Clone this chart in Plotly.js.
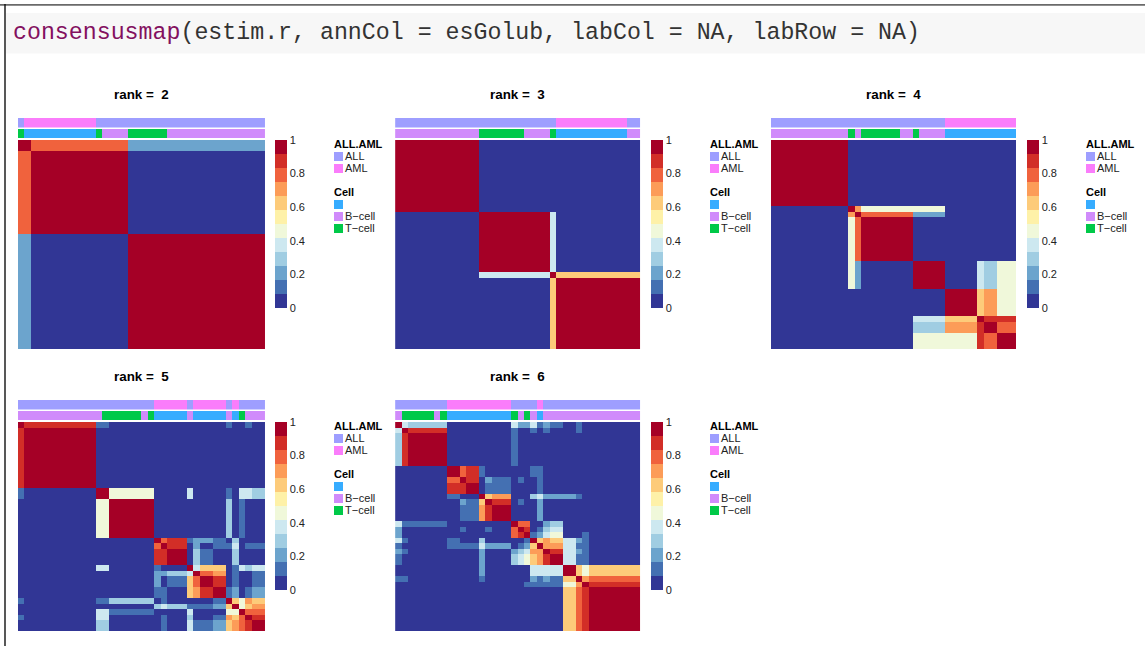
<!DOCTYPE html>
<html><head><meta charset="utf-8">
<script src="https://cdn.plot.ly/plotly-3.0.1.min.js"></script>
<style>html,body{margin:0;padding:0;background:#fff;overflow:hidden}#chart{width:1145px;height:646px}</style>
</head><body><div id="chart"></div>
<script>
// ---- colour bands of the consensus scale (bottom to top) ----
const bandColors = ['#313695','#4470b2','#6ca4cd','#a0cde2','#cde8f0','#f0f8da','#fef1a8','#fdcb7a','#fc9c58','#f0623d','#d22e27','#a50026'];
const colorbarTicks = [0,0.2,0.4,0.6,0.8,1];
const colorbarLabels = ['0','0.2','0.4','0.6','0.8','1'];

// ---- annotation categories ----
const allAmlNames = ['ALL','AML'];
const allAmlColors = ['#9e9eff','#fa7dfb'];
const cellNames = ['','B\u2212cell','T\u2212cell'];
const cellColors = ['#36acff','#d08bfb','#00c948'];

// ---- ordered sample annotation, as [category, run length] ----
const rank2AllAml = [[0,1],[1,11],[0,26]];
const rank2Cell = [[2,1],[0,11],[2,1],[1,4],[2,6],[1,15]];
const rank3AllAml = [[0,25],[1,11],[0,2]];
const rank3Cell = [[1,13],[2,7],[1,4],[2,1],[0,11],[1,2]];
const rank4AllAml = [[0,27],[1,11]];
const rank4Cell = [[1,12],[2,1],[1,1],[2,6],[1,2],[2,1],[1,4],[0,11]];
const rank5AllAml = [[0,21],[1,5],[0,1],[1,5],[0,1],[1,1],[0,4]];
const rank5Cell = [[1,13],[2,6],[1,1],[2,1],[0,5],[1,1],[0,5],[1,1],[0,1],[2,1],[1,3]];
const rank6AllAml = [[0,8],[1,10],[0,4],[1,1],[0,15]];
const rank6Cell = [[1,1],[2,5],[1,1],[2,1],[0,10],[2,1],[1,1],[2,1],[1,1],[0,1],[1,15]];

// ---- consensus matrices: cluster block sizes, and colour band read per block ----
const rank2Sizes = [2,15,21];
const rank2Bands = [[11,9,2],[9,11,0],[2,0,11]];
const rank3Sizes = [13,11,1,13];
const rank3Bands = [[11,0,0,0],[0,11,4,0],[0,4,11,7],[0,0,7,11]];
const rank4Sizes = [12,1,1,8,5,5,1,2,3];
const rank4Bands = [
[11,0,0,0,0,0,0,0,0],
[0,11,8,5,5,0,0,0,0],
[0,8,11,9,2,0,0,0,0],
[0,5,9,11,0,0,0,0,0],
[0,5,2,0,11,0,4,3,5],
[0,0,0,0,0,11,7,8,5],
[0,0,0,0,4,7,11,10,10],
[0,0,0,0,3,8,10,11,9],
[0,0,0,0,5,5,10,9,11]];
const rank5Sizes = [1,11,2,7,1,1,3,1,1,2,2,1,1,1,1,2];
const rank5Bands = [
[11,10,1,0,0,0,0,0,0,0,0,1,0,0,1,0],
[10,11,0,0,0,0,0,0,0,0,0,0,0,0,0,0],
[1,0,11,5,0,0,0,4,0,0,0,1,0,4,4,3],
[0,0,5,11,0,0,0,0,0,0,0,3,0,1,0,0],
[0,0,0,0,11,9,10,1,2,2,1,0,3,0,0,0],
[0,0,0,0,9,11,10,0,2,0,1,1,4,0,1,1],
[0,0,0,0,10,10,11,0,3,1,0,0,3,0,0,0],
[0,0,4,0,1,0,0,11,4,7,7,0,1,4,3,4],
[0,0,0,0,2,2,3,4,11,9,8,0,1,0,0,1],
[0,0,0,0,2,0,1,7,9,11,10,0,1,0,0,1],
[0,0,0,0,1,1,0,7,8,10,11,1,2,0,1,2],
[1,0,1,3,0,1,0,0,0,0,1,11,7,5,8,7],
[0,0,0,0,3,4,3,1,1,1,2,7,11,5,7,8],
[0,0,4,1,0,0,0,4,0,0,0,5,5,11,9,9],
[1,0,4,0,0,1,0,3,0,0,1,8,7,9,11,10],
[0,0,3,0,0,1,0,4,1,1,2,7,8,9,10,11]];
const rank6Sizes = [1,1,6,2,1,2,1,1,3,1,1,1,1,1,1,2,2,1,1,8];
const rank6Bands = [
[11,4,3,0,0,0,0,0,0,4,2,2,4,1,2,1,0,1,0,0],
[4,11,10,0,0,0,0,0,0,1,0,0,1,0,1,0,0,1,0,0],
[3,10,11,0,0,0,0,0,0,1,0,0,0,0,0,0,0,0,0,0],
[0,0,0,11,9,10,1,0,0,0,0,0,1,1,0,0,0,0,0,0],
[0,0,0,9,11,10,0,2,1,0,1,0,0,1,0,0,0,0,0,0],
[0,0,0,10,10,11,0,1,1,0,0,0,0,1,0,0,0,0,0,0],
[0,0,0,1,0,0,11,7,8,0,0,0,3,4,2,2,2,1,0,0],
[0,0,0,0,2,1,7,11,10,0,1,0,0,2,0,0,0,0,0,0],
[0,0,0,0,1,1,8,10,11,0,0,0,0,2,0,0,0,0,0,0],
[4,1,1,0,0,0,0,0,0,11,9,9,0,0,2,3,0,0,0,0],
[2,0,0,0,1,0,0,1,0,9,11,10,0,1,3,4,0,0,0,0],
[2,0,0,0,0,0,0,0,0,9,10,11,1,2,4,5,0,0,1,0],
[4,1,0,1,0,0,3,0,0,0,0,1,11,7,8,7,4,2,1,0],
[1,0,0,1,1,1,4,2,2,0,1,2,7,11,8,8,4,1,1,0],
[2,1,0,0,0,0,2,0,0,2,3,4,8,8,11,10,4,2,1,0],
[1,0,0,0,0,0,2,0,0,3,4,5,7,8,10,11,4,1,1,0],
[0,0,0,0,0,0,2,0,0,0,0,0,4,4,4,4,11,7,5,7],
[1,1,0,0,0,0,1,0,0,0,0,0,2,1,2,1,7,11,8,9],
[0,0,0,0,0,0,0,0,0,0,0,1,1,1,1,1,5,8,11,10],
[0,0,0,0,0,0,0,0,0,0,0,0,0,0,0,0,7,9,10,11]];

const panelData = [
 {rank:2,all:rank2AllAml,cell:rank2Cell,sizes:rank2Sizes,bands:rank2Bands,col:0,row:0},
 {rank:3,all:rank3AllAml,cell:rank3Cell,sizes:rank3Sizes,bands:rank3Bands,col:1,row:0},
 {rank:4,all:rank4AllAml,cell:rank4Cell,sizes:rank4Sizes,bands:rank4Bands,col:2,row:0},
 {rank:5,all:rank5AllAml,cell:rank5Cell,sizes:rank5Sizes,bands:rank5Bands,col:0,row:1},
 {rank:6,all:rank6AllAml,cell:rank6Cell,sizes:rank6Sizes,bands:rank6Bands,col:1,row:1}
];

// ---- page geometry (pixels) ----
const W=1145,H=646;
const colX=[17.98,395.1,771], colEnd=[264.98,640.39,1016.3], colBar=[275,651,1027], colLeg=[334,710,1086];
const colMid=[141,517.5,893.5], rowOff=[0,282];
const px=v=>v/W, py=v=>1-v/H;
const FONT='"Liberation Sans", Arial, sans-serif';

const expandRuns=r=>r.flatMap(([c,n])=>Array(n).fill(c));
const expandBlocks=(sizes,bands)=>{
  const z=[];
  sizes.forEach((sr,i)=>{ for(let a=0;a<sr;a++){ const row=[];
    sizes.forEach((sc,j)=>{ for(let b=0;b<sc;b++) row.push((bands[i][j]+0.5)/bandColors.length); });
    z.push(row);} });
  return z;
};
const stepScale=cols=>cols.flatMap((c,i)=>[[i/cols.length,c],[(i+1)/cols.length,c]]);

const traces=[], layout={
  width:W,height:H,margin:{l:0,r:0,t:0,b:0,pad:0},paper_bgcolor:'#fff',plot_bgcolor:'#fff',
  showlegend:false,shapes:[],annotations:[],font:{family:FONT,color:'#000'}
};
const text=(x,y,t,opts={})=>layout.annotations.push(Object.assign({
  xref:'paper',yref:'paper',x:px(x),y:py(y),text:t,showarrow:false,xanchor:'left',yanchor:'middle',
  borderpad:0,font:{family:FONT,size:11,color:'#222'}},opts));
const rect=(x0,y0,x1,y1,c)=>layout.shapes.push({type:'rect',xref:'paper',yref:'paper',layer:'below',
  x0:px(x0),x1:px(x1),y0:py(y0),y1:py(y1),fillcolor:c,line:{width:0}});

// page furniture
rect(6,13,W,53.5,'#f7f7f7');
rect(0,4,W,5.7,'#6a6a6a');
rect(4.3,4,5.7,H,'#111');
text(11.5,32.5,'<span style="color:#83105f">consensusmap</span>(estim.r, annCol = esGolub, labCol = NA, labRow = NA)',
  {font:{family:'"Liberation Mono", monospace',size:23.25,color:'#333'}});

const ax=(domain,range,anchor)=>({domain,range,anchor,visible:false,fixedrange:true,showgrid:false,zeroline:false});

panelData.forEach((p,k)=>{
  const x0=colX[p.col],x1=colEnd[p.col],dy=rowOff[p.row];
  const xn=k?`x${k+1}`:'x', xk=k?`xaxis${k+1}`:'xaxis';
  const yNames=[1,2,3].map(i=>3*k+i);
  const yid=i=>yNames[i]===1?'y':`y${yNames[i]}`, ykey=i=>yNames[i]===1?'yaxis':`yaxis${yNames[i]}`;
  layout[xk]=ax([px(x0),px(x1)],[-0.5,37.5],yid(2));
  layout[ykey(0)]=ax([py(127.6+dy),py(118+dy)],[-0.5,0.5],xn);
  layout[ykey(1)]=ax([py(138.3+dy),py(129+dy)],[-0.5,0.5],xn);
  layout[ykey(2)]=ax([py(349+dy),py(140+dy)],[37.5,-0.5],xn);
  traces.push({type:'heatmap',xaxis:xn,yaxis:yid(0),z:[expandRuns(p.all)],zmin:0,zmax:1,
    colorscale:stepScale(allAmlColors),showscale:false,hoverinfo:'skip'});
  traces.push({type:'heatmap',xaxis:xn,yaxis:yid(1),z:[expandRuns(p.cell)],zmin:0,zmax:2,
    colorscale:[[0,cellColors[0]],[0.25,cellColors[0]],[0.25,cellColors[1]],[0.75,cellColors[1]],[0.75,cellColors[2]],[1,cellColors[2]]],showscale:false,hoverinfo:'skip'});
  traces.push({type:'heatmap',xaxis:xn,yaxis:yid(2),z:expandBlocks(p.sizes,p.bands),zmin:0,zmax:1,
    colorscale:stepScale(bandColors),showscale:true,
    colorbar:{x:px(colBar[p.col]),xanchor:'left',xref:'paper',y:py(140+dy),yanchor:'top',yref:'paper',
      lenmode:'pixels',len:168,thicknessmode:'pixels',thickness:12,xpad:0,ypad:0,outlinewidth:0,borderwidth:0,
      ticks:'',ticklen:0,tickmode:'array',tickvals:colorbarTicks,ticktext:colorbarLabels,
      tickfont:{family:FONT,size:11,color:'#222'}}});

  // title
  text(colMid[p.col],94.4+dy,'rank =\u00a0\u00a0'+p.rank,{xanchor:'center',font:{family:FONT,size:13.4,color:'#000',weight:700}});
  // annotation legend
  const bold={family:FONT,size:11,color:'#000',weight:700};
  const L=colLeg[p.col];
  text(L-1,144+dy,'ALL.AML',{font:bold});
  allAmlNames.forEach((n,i)=>{const y=152+12*i+dy; rect(L,y,L+9,y+9,allAmlColors[i]); text(L+10,y+3.9,n);});
  text(L-1,192+dy,'Cell',{font:bold});
  cellNames.forEach((n,i)=>{const y=200+12*i+dy; rect(L,y,L+9,y+9,cellColors[i]); if(n) text(L+10,y+3.9,n);});
});

Plotly.newPlot('chart',traces,layout,{displayModeBar:false,staticPlot:true});
</script></body></html>
